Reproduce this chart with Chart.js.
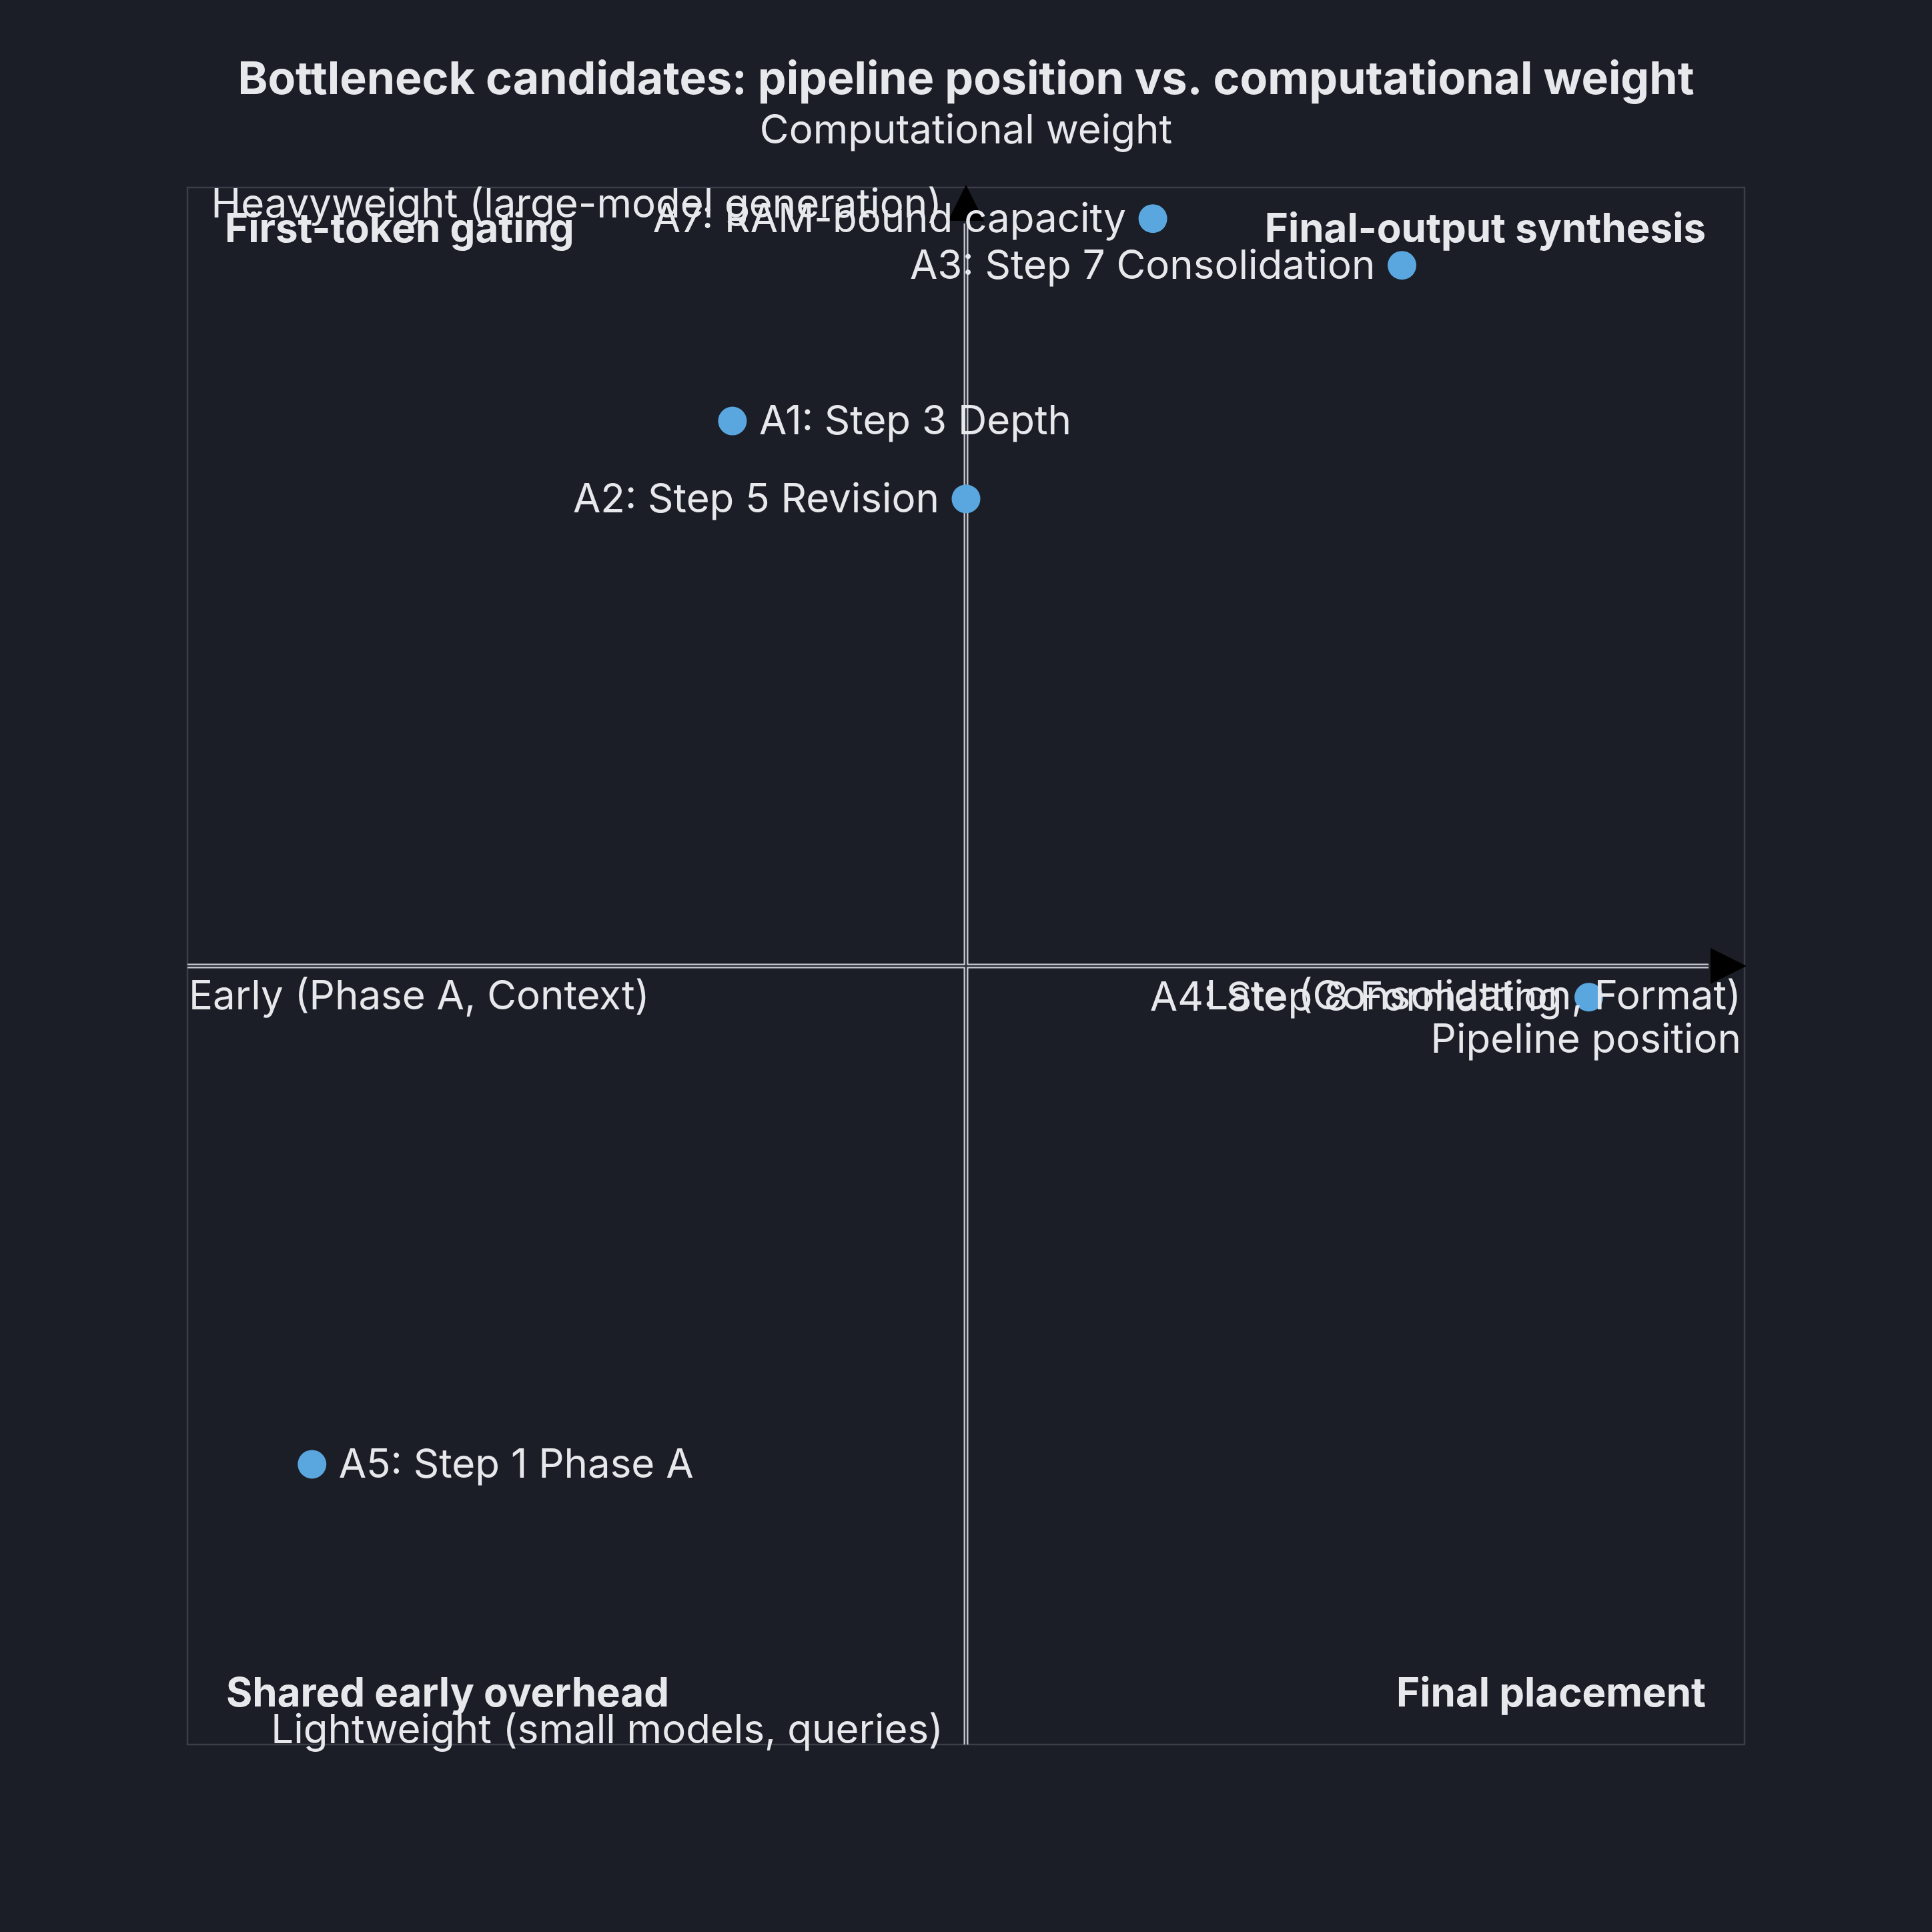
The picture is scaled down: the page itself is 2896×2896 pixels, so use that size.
<!DOCTYPE html>
<html>
<head>
<meta charset="utf-8">
<title>Bottleneck candidates</title>
<script src="https://cdn.jsdelivr.net/npm/chart.js@4.4.1/dist/chart.umd.min.js"></script>
<style>
  html, body { margin: 0; padding: 0; background: #1b1e26; }
  #wrap { width: 2896px; height: 2896px; }
</style>
</head>
<body>
<div id="wrap"><canvas id="chart" width="2896" height="2896"></canvas></div>
<script>
// Données
const candidates = [
  'A1: Step 3 Depth',
  'A2: Step 5 Revision',
  'A3: Step 7 Consolidation',
  'A4: Step 8 Formatting',
  'A5: Step 1 Phase A',
  'A7: RAM-bound capacity'
];
const pipelinePos = [0.35, 0.50, 0.78, 0.90, 0.08, 0.62];
const compWeight  = [0.85, 0.80, 0.95, 0.48, 0.18, 0.98];

const quadrants = ['First-token gating', 'Final-output synthesis', 'Shared early overhead', 'Final placement'];
const xEnds = ['Early (Phase A, Context)', 'Late (Consolidation, Format)'];
const yEnds = ['Lightweight (small models, queries)', 'Heavyweight (large-model generation)'];
const xTitle = 'Pipeline position';
const yTitle = 'Computational weight';
const chartTitle = 'Bottleneck candidates: pipeline position vs. computational weight';

const FONT = 'Inter, "Noto Sans", sans-serif';
const TEXT = '#e7e8ec';
const BG = '#1b1e26';
const SIZE = 60;

// Fond + cadre + axes en croix
const quadPlugin = {
  id: 'quad',
  beforeDraw(chart) {
    const { ctx, chartArea: a } = chart;
    ctx.save();
    ctx.fillStyle = BG;
    ctx.fillRect(0, 0, chart.width, chart.height);
    ctx.strokeStyle = '#3b3f4a';
    ctx.lineWidth = 2.5;
    ctx.strokeRect(a.left, a.top, a.right - a.left, a.bottom - a.top);
    ctx.restore();
  },
  beforeDatasetsDraw(chart) {
    const { ctx, chartArea: a, scales } = chart;
    const cx = scales.x.getPixelForValue(0.5);
    const cy = scales.y.getPixelForValue(0.5);
    const head = 54, half = 27;
    ctx.save();
    // trait clair
    ctx.strokeStyle = '#c9ccd3';
    ctx.lineWidth = 7;
    ctx.beginPath();
    ctx.moveTo(a.left, cy); ctx.lineTo(a.right - head, cy);
    ctx.moveTo(cx, a.bottom); ctx.lineTo(cx, a.top + head);
    ctx.stroke();
    // trait sombre central
    ctx.strokeStyle = '#2b2e36';
    ctx.lineWidth = 2.5;
    ctx.beginPath();
    ctx.moveTo(a.left, cy); ctx.lineTo(a.right + 3, cy);
    ctx.moveTo(cx, a.bottom); ctx.lineTo(cx, a.top - 3);
    ctx.stroke();
    // flèches
    ctx.fillStyle = '#000000';
    ctx.beginPath();
    ctx.moveTo(a.right + 3, cy);
    ctx.lineTo(a.right + 3 - head, cy - half);
    ctx.lineTo(a.right + 3 - head, cy + half);
    ctx.closePath();
    ctx.fill();
    ctx.beginPath();
    ctx.moveTo(cx, a.top - 4);
    ctx.lineTo(cx - half, a.top - 4 + head);
    ctx.lineTo(cx + half, a.top - 4 + head);
    ctx.closePath();
    ctx.fill();
    ctx.restore();
  },
  afterDraw(chart) {
    const { ctx, chartArea: a, scales } = chart;
    const cx = scales.x.getPixelForValue(0.5);
    const cy = scales.y.getPixelForValue(0.5);
    ctx.save();
    ctx.fillStyle = TEXT;
    ctx.textBaseline = 'alphabetic';

    // titre
    ctx.font = `bold 68px ${FONT}`;
    ctx.textAlign = 'center';
    ctx.fillText(chartTitle, cx, 141);

    // titres d'axes et extrémités
    ctx.font = `${SIZE}px ${FONT}`;
    ctx.fillText(yTitle, cx, 215);
    ctx.textAlign = 'right';
    ctx.fillText(yEnds[1], cx - 36, a.top + 45);
    ctx.fillText(yEnds[0], cx - 34, a.bottom - 2);
    ctx.textAlign = 'left';
    ctx.fillText(xEnds[0], a.left + 2, cy + 65);
    ctx.textAlign = 'right';
    ctx.fillText(xEnds[1], a.right - 5, cy + 65);
    ctx.fillText(xTitle, a.right - 5, cy + 130);

    // quadrants
    ctx.font = `bold ${SIZE}px ${FONT}`;
    ctx.textAlign = 'left';
    ctx.fillText(quadrants[0], a.left + 56, a.top + 82);
    ctx.fillText(quadrants[2], a.left + 58, a.bottom - 57);
    ctx.textAlign = 'right';
    ctx.fillText(quadrants[1], a.right - 58, a.top + 82);
    ctx.fillText(quadrants[3], a.right - 58, a.bottom - 57);
    ctx.restore();
  }
};

// Étiquettes des points
const labelPlugin = {
  id: 'pointLabels',
  afterDatasetsDraw(chart) {
    const { ctx } = chart;
    const meta = chart.getDatasetMeta(0);
    ctx.save();
    ctx.font = `${SIZE}px ${FONT}`;
    ctx.fillStyle = TEXT;
    ctx.textBaseline = 'middle';
    meta.data.forEach((pt, i) => {
      const right = pipelinePos[i] < 0.5;
      ctx.textAlign = right ? 'left' : 'right';
      ctx.fillText(candidates[i], pt.x + (right ? 40 : -40), pt.y + 2);
    });
    ctx.restore();
  }
};

const points = pipelinePos.map((x, i) => ({ x, y: compWeight[i] }));

new Chart(document.getElementById('chart'), {
  type: 'scatter',
  data: {
    datasets: [{
      data: points,
      backgroundColor: '#5aa7e0',
      borderWidth: 0,
      pointRadius: 21.5,
      pointHoverRadius: 21.5
    }]
  },
  options: {
    responsive: false,
    animation: false,
    layout: { padding: { left: 281, right: 281, top: 281, bottom: 281 } },
    plugins: { legend: { display: false }, tooltip: { enabled: false }, title: { display: false } },
    scales: {
      x: { type: 'linear', min: 0, max: 1, display: false },
      y: { type: 'linear', min: 0, max: 1, display: false }
    }
  },
  plugins: [quadPlugin, labelPlugin]
});
</script>
</body>
</html>
